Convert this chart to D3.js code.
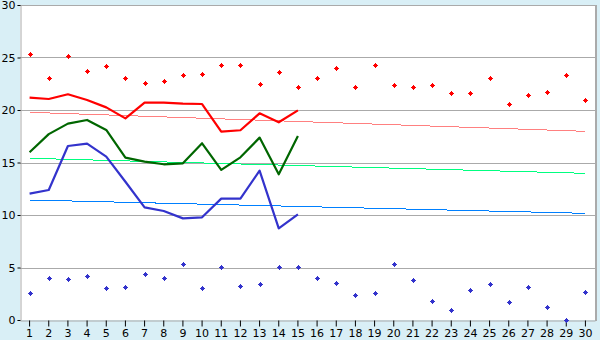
<!DOCTYPE html>
<html><head><meta charset="utf-8">
<script src="https://cdn.jsdelivr.net/npm/d3@7"></script>
<style>body{margin:0;background:#d9eff6;}svg{display:block;font-family:"DejaVu Sans",Verdana,sans-serif;}</style>
</head><body>
<svg id="c" width="600" height="340"></svg>
<script>
const days = d3.range(1, 31);
const yTicks = [0, 5, 10, 15, 20, 25, 30];
const maxPoints = [25.3,23.0,25.1,23.7,24.2,23.0,22.6,22.8,23.3,23.4,24.3,24.3,22.5,23.6,22.2,23.0,24.0,22.2,24.25,22.35,22.2,22.35,21.6,21.6,23.0,20.6,21.4,21.7,23.3,21.0];
const minPoints = [2.54,3.97,3.87,4.16,3.02,3.11,4.38,3.97,5.3,3.02,5.02,3.21,3.4,5.02,5.02,3.97,3.49,2.35,2.54,5.3,3.78,1.78,0.92,2.83,3.4,1.68,3.11,1.2,0.0,2.63];
const redLine = [21.17,21.05,21.5,20.95,20.25,19.2,20.7,20.7,20.6,20.57,17.94,18.07,19.68,18.83,19.97];
const greenLine = [15.97,17.7,18.7,19.05,18.1,15.46,15.08,14.83,14.92,16.83,14.29,15.49,17.37,13.87,17.52];
const blueLine = [12.03,12.38,16.57,16.79,15.56,13.17,10.73,10.38,9.68,9.78,11.56,11.56,14.22,8.73,10.06];
const trendRed = [19.78, 17.97];
const trendGreen = [15.4, 13.97];
const trendBlue = [11.43, 10.16];

const svg = d3.select("#c");
const L = 20, R = 595, T = 5, B = 320;
const x = d3.scaleBand().domain(days).range([L, R]);
const cx = d => x(d) + x.bandwidth() / 2;
const y = d3.scaleLinear().domain([0, 30]).range([B, T]);

svg.append("rect").attr("x", L).attr("y", T).attr("width", R - L).attr("height", B - T).attr("fill", "#fff");

// grid
svg.append("g").selectAll("line").data(yTicks.filter(v => v > 0)).join("line")
  .attr("x1", L).attr("x2", R).attr("y1", d => Math.round(y(d)) + 0.5).attr("y2", d => Math.round(y(d)) + 0.5)
  .attr("stroke", "#aaaaaa").attr("stroke-width", 1);
// right border
svg.append("line").attr("x1", R + 1).attr("x2", R + 1).attr("y1", T).attr("y2", B + 1)
  .attr("stroke", "#aaaaaa").attr("stroke-width", 2);

// axes
const yAxis = d3.axisLeft(y).tickValues(yTicks).tickSize(3).tickPadding(2).tickFormat(d3.format("d"));
const gy = svg.append("g").attr("transform", `translate(${L + 0.5},0)`).call(yAxis);
gy.select(".domain").attr("stroke", "#aaaaaa");
gy.selectAll(".tick line").attr("stroke", "#000");
gy.selectAll("text").attr("font-size", 11).attr("fill", "#000").attr("font-family", "DejaVu Sans, Verdana, sans-serif");

const xAxis = d3.axisBottom(x).tickSize(6).tickSizeOuter(0).tickPadding(3);
const gx = svg.append("g").attr("transform", `translate(0,${B + 0.5})`).call(xAxis);
gx.select(".domain").attr("stroke", "#aaaaaa");
gx.selectAll(".tick line").attr("stroke", "#000");
gx.selectAll("text").attr("font-size", 11).attr("fill", "#000").attr("font-family", "DejaVu Sans, Verdana, sans-serif");

// trend lines
const trendDays = [days[0], days[days.length - 1]];
[[trendRed, "#ff8080"], [trendGreen, "#00ff80"], [trendBlue, "#0080ff"]].forEach(([t, c]) => {
  svg.append("path").datum(t.map((v, i) => [trendDays[i], v]))
    .attr("d", d3.line().x(d => cx(d[0])).y(d => y(d[1])))
    .attr("fill", "none").attr("stroke", c).attr("stroke-width", 1).attr("shape-rendering", "crispEdges");
});

// thick lines
[[redLine, "#ff0000"], [greenLine, "#006600"], [blueLine, "#3333cc"]].forEach(([s, c]) => {
  svg.append("path").datum(s.map((v, i) => [days[i], v]))
    .attr("d", d3.line().x(d => cx(d[0])).y(d => y(d[1])))
    .attr("fill", "none").attr("stroke", c).attr("stroke-width", 2.2).attr("stroke-linejoin", "round");
});

// markers
const marker = "M-0.5,-2.5H0.5V-1.5H1.5V-0.5H2.5V0.5H1.5V1.5H0.5V2.5H-0.5V1.5H-1.5V0.5H-2.5V-0.5H-1.5V-1.5H-0.5Z";
[[maxPoints, "#ff0000"], [minPoints, "#3333cc"]].forEach(([s, c]) => {
  svg.append("g").selectAll("path").data(s.map((v, i) => [days[i], v])).join("path")
    .attr("d", marker)
    .attr("transform", d => `translate(${Math.round(cx(d[0])) + 0.5},${Math.round(y(d[1])) + 0.5})`)
    .attr("fill", c).attr("shape-rendering", "crispEdges");
});
</script>
</body></html>
